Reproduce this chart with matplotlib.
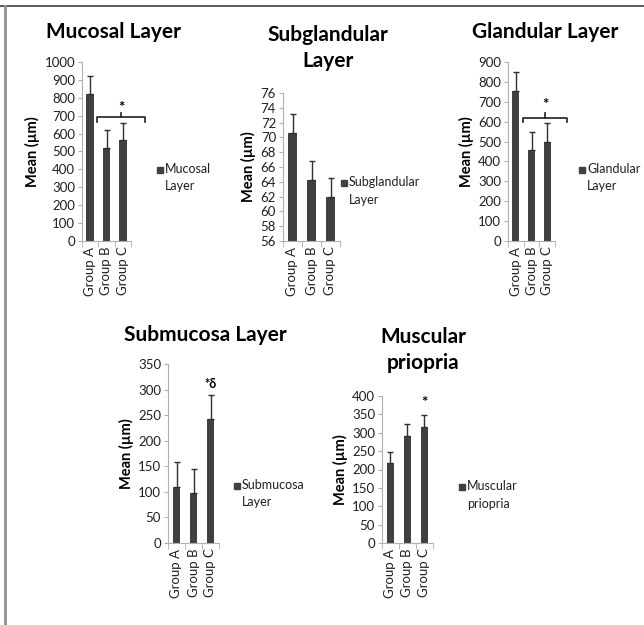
import matplotlib
matplotlib.use("Agg")
import matplotlib.pyplot as plt
from matplotlib.lines import Line2D

plt.rcParams['font.family'] = ['Lato', 'DejaVu Sans']

groups = ["Group A", "Group B", "Group C"]

mucosal = [820, 520, 565]
mucosal_err = [100, 100, 95]
subglandular = [70.6, 64.2, 61.9]
subglandular_err = [2.6, 2.6, 2.6]
glandular = [755, 460, 500]
glandular_err = [95, 90, 95]
submucosa = [110, 97, 243]
submucosa_err = [48, 48, 47]
muscular = [217, 292, 317]
muscular_err = [31, 31, 31]

BAR = "#404040"
AXC = "#b0b0b0"

W, H = 644, 625
fig = plt.figure(figsize=(W / 100, H / 100), dpi=100)


def px_axes(x0, x1, ytop, ybot):
    return fig.add_axes([x0 / W, 1 - ybot / H, (x1 - x0) / W, (ybot - ytop) / H])


def panel(rect, vals, errs, ylim, step, title, legend, tx, ty):
    ax = px_axes(*rect)
    xs = range(len(groups))
    ax.bar(xs, [v - ylim[0] for v in vals], bottom=ylim[0], width=0.45, color=BAR,
           yerr=[[0] * len(errs), errs], error_kw=dict(ecolor="#303030", capsize=2.5,
                                                      elinewidth=1, capthick=1))
    ax.set_xlim(-0.5, 2.5)
    ax.set_ylim(*ylim)
    ticks = []
    t = ylim[0]
    while t <= ylim[1] + 1e-9:
        ticks.append(t)
        t += step
    ax.set_yticks(ticks)
    ax.set_yticklabels([f"{v:g}" for v in ticks], fontsize=9.5, color="#202020")
    ax.set_xticks(list(xs))
    ax.set_xticklabels(groups, rotation=90, fontsize=9.5, color="#202020")
    ax.set_xticks([-0.5, 0.5, 1.5, 2.5], minor=True)
    ax.tick_params(axis="x", which="major", length=0, pad=4)
    ax.tick_params(axis="x", which="minor", length=4, color=AXC)
    ax.tick_params(axis="y", length=3, color=AXC, pad=2)
    for s in ("top", "right"):
        ax.spines[s].set_visible(False)
    for s in ("left", "bottom"):
        ax.spines[s].set_color(AXC)
        ax.spines[s].set_linewidth(0.8)
    ax.set_ylabel("Mean (µm)", fontsize=10.5, fontweight="bold", labelpad=3)
    fig.text(tx / W, 1 - ty / H, title, ha="center", va="center",
             fontsize=15, fontweight="bold", linespacing=1.4)
    lx, ly = legend[1], legend[2]
    fig.patches.append(plt.Rectangle(((lx - 3) / W, 1 - (ly + 3) / H), 6 / W, 6 / H,
                                     transform=fig.transFigure, color=BAR))
    fig.text((lx + 5) / W, 1 - (ly - 7) / H, legend[0], ha="left", va="top",
             fontsize=9, linespacing=1.55, transform=fig.transFigure, color="#202020")
    return ax


def bracket(ax, x0, x1, y, drop, star):
    xm = (x0 + x1) / 2
    kw = dict(color="#202020", lw=1.2, clip_on=False)
    ax.add_line(Line2D([x0, x0, x1, x1], [y - drop, y, y, y - drop], **kw))
    ax.add_line(Line2D([xm, xm], [y, y + drop], **kw))
    ax.text(xm, star, "*", ha="center", va="center", fontsize=11, fontweight="bold")


ax1 = panel((82, 131, 62, 241), mucosal, mucosal_err, (0, 1000), 100,
            "Mucosal Layer", ("Mucosal\nLayer", 160, 170), 113, 32)
bracket(ax1, 0.42, 3.36, 690, 25, 745)

ax2 = panel((283, 340, 93, 241), subglandular, subglandular_err, (56, 76), 2,
            "Subglandular\nLayer", ("Subglandular\nLayer", 344, 183), 328, 48)

ax3 = panel((508, 555, 62, 241), glandular, glandular_err, (0, 900), 100,
            "Glandular Layer", ("Glandular\nLayer", 582, 170), 545, 32)
bracket(ax3, 0.46, 3.27, 620, 22, 685)

ax4 = panel((168, 219, 364, 543), submucosa, submucosa_err, (0, 350), 50,
            "Submucosa Layer", ("Submucosa\nLayer", 237, 486), 205, 335)
ax4.text(2, 300, "*δ", ha="center", va="bottom", fontsize=9, fontweight="bold")

ax5 = panel((382, 433, 396, 543), muscular, muscular_err, (0, 400), 50,
            "Muscular\npriopria", ("Muscular\npriopria", 462, 487), 423, 350)
ax5.text(2, 362, "*", ha="center", va="bottom", fontsize=11, fontweight="bold")

# frame lines along the top and left edge
fig.add_artist(Line2D([0, 1], [1 - 6 / H, 1 - 6 / H], color="#404040", lw=1.2,
                      transform=fig.transFigure))
fig.add_artist(Line2D([5 / W, 5 / W], [0, 1 - 6 / H], color="#909090", lw=2,
                      transform=fig.transFigure))

fig.savefig("out.png", dpi=100)
